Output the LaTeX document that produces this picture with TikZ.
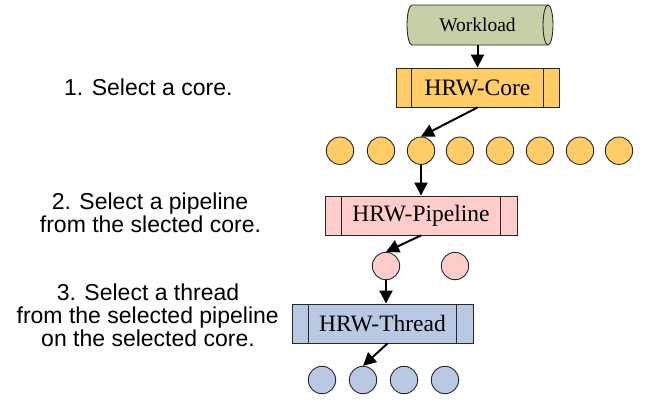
\documentclass[tikz,border=0pt]{standalone}
\usepackage{fontspec}
\setmainfont{Liberation Serif}
\newfontfamily\labsans{Liberation Sans}
\usetikzlibrary{arrows.meta}
\definecolor{wlfill}{RGB}{197,208,167}
\definecolor{corefill}{RGB}{255,204,102}
\definecolor{pipefill}{RGB}{255,204,204}
\definecolor{thrfill}{RGB}{185,201,227}
\definecolor{edge}{RGB}{40,40,40}
\tikzset{
  procbox/.style={draw=edge, line width=0.9pt, rectangle, minimum height=39pt, inner sep=0pt,
    font=\fontsize{23.5}{24}\selectfont},
  ball/.style={draw=edge, line width=0.9pt, circle, minimum size=27.4pt, inner sep=0pt},
  flow/.style={line width=2pt, -{Triangle[length=13pt,width=13pt]}},
  steptext/.style={anchor=base, inner sep=0pt, font=\labsans\fontsize{23}{23}\selectfont}
}
\begin{document}
\begin{tikzpicture}[x=1pt,y=-1pt]
\useasboundingbox (0,0) rectangle (645,400);
% workload cylinder
\draw[edge, line width=0.9pt, fill=wlfill] (412,5) -- (548,5)
  arc[start angle=-90, end angle=90, x radius=5, y radius=20] -- (412,45)
  arc[start angle=90, end angle=270, x radius=5, y radius=20] -- cycle;
\draw[edge, line width=0.9pt] (548,5) arc[start angle=-90, end angle=-270, x radius=5, y radius=20];
\node[minimum width=130pt, minimum height=40pt, inner sep=0pt,
  font=\fontsize{19.5}{20}\selectfont] (wl) at (477.5,25) {Workload};
% core
\node[procbox, fill=corefill, minimum width=163pt] (core) at (477.5,87.5) {HRW-Core};
\draw[edge, line width=0.9pt] ([xshift=16pt]core.north west) -- ([xshift=16pt]core.south west)
  ([xshift=-16pt]core.north east) -- ([xshift=-16pt]core.south east);
\foreach \i/\x in {1/340,2/381,3/421,4/460,5/500,6/540,7/580,8/619}
  \node[ball, fill=corefill] (c\i) at (\x,150.7) {};
% pipeline
\node[procbox, fill=pipefill, minimum width=192pt] (pipe) at (421,215.5) {HRW-Pipeline};
\draw[edge, line width=0.9pt] ([xshift=17pt]pipe.north west) -- ([xshift=17pt]pipe.south west)
  ([xshift=-17pt]pipe.north east) -- ([xshift=-17pt]pipe.south east);
\node[ball, fill=pipefill] (p1) at (386,266) {};
\node[ball, fill=pipefill] (p2) at (455,266) {};
% thread
\node[procbox, fill=thrfill, minimum width=181pt] (thr) at (382.5,323.5) {HRW-Thread};
\draw[edge, line width=0.9pt] ([xshift=17pt]thr.north west) -- ([xshift=17pt]thr.south west)
  ([xshift=-17pt]thr.north east) -- ([xshift=-17pt]thr.south east);
\foreach \i/\x in {1/322,2/363,3/404,4/445}
  \node[ball, fill=thrfill] (b\i) at (\x,380) {};
% arrows
\draw[flow] (wl.south) -- (wl.south |- core.north);
\draw[flow] (core.south) -- (c3.north);
\draw[flow] (c3.south) -- (c3.south |- pipe.north);
\draw[flow] (pipe.south) -- (p1.north);
\draw[flow] (p1.south) -- (p1.south |- thr.north);
\draw[flow] ([xshift=5pt]thr.south) -- (b2.north);
% step texts
\node[steptext] (t1) at (148.3,95) {1. Select a core.};
\node[steptext] (t2a) at (150,209.3) {2. Select a pipeline};
\node[steptext] (t2b) at (150.5,232.3) {from the slected core.};
\node[steptext] (t3a) at (148,300) {3. Select a thread};
\node[steptext] (t3b) at (147.7,323.3) {from the selected pipeline};
\node[steptext] (t3c) at (148,346.7) {on the selected core.};
\end{tikzpicture}
\end{document}
